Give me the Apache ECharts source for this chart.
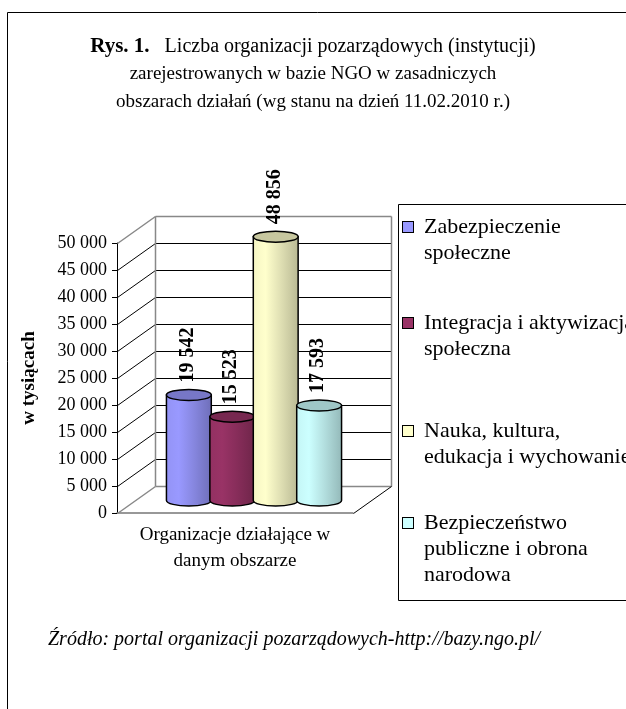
<!DOCTYPE html>
<html>
<head>
<meta charset="utf-8">
<script src="https://cdn.jsdelivr.net/npm/echarts@6/dist/echarts.min.js"></script>
<style>
  html, body { margin: 0; padding: 0; background: #fff; }
  #chart { width: 626px; height: 709px; }
</style>
</head>
<body>
<div id="chart"></div>
<script>
// data
const categories = ['Organizacje działające w\ndanym obszarze'];
const seriesNames = [
  'Zabezpieczenie społeczne',
  'Integracja i aktywizacja społeczna',
  'Nauka, kultura, edukacja i wychowanie',
  'Bezpieczeństwo publiczne i obrona narodowa'
];
const legendLines = [
  ['Zabezpieczenie', 'społeczne'],
  ['Integracja i aktywizacja', 'społeczna'],
  ['Nauka, kultura,', 'edukacja i wychowanie'],
  ['Bezpieczeństwo', 'publiczne i obrona', 'narodowa']
];
const values = [19542, 15523, 48856, 17593];
const yTicks = [0, 5000, 10000, 15000, 20000, 25000, 30000, 35000, 40000, 45000, 50000];
const colors = ['#9999FF', '#993366', '#FFFFCC', '#CCFFFF'];

const FONT = '"Liberation Serif", "Times New Roman", serif';
const DX = 38, DY = -27;      // depth of the 3d box
const BAR_W = 0.19, BAR_STEP = 0.184, RY = 5.5;
const LEGEND_TOPS = [214, 310, 418, 510];

function fmt(v) {
  return String(v).replace(/\B(?=(\d{3})+(?!\d))/g, ' ');
}
function shade(hex, f) {
  const n = parseInt(hex.slice(1), 16);
  const ch = [(n >> 16) & 255, (n >> 8) & 255, n & 255].map((c) => Math.round(Math.min(255, c * f)));
  return 'rgb(' + ch.join(',') + ')';
}
function px(v) {
  return Math.round(v) + 0.5;
}

function renderFrame(params, api) {
  const cs = params.coordSys;
  const x0 = cs.x, x1 = cs.x + cs.width;
  const yb = px(api.coord([0, yTicks[0]])[1]);
  const yt = px(api.coord([0, yTicks[yTicks.length - 1]])[1]);
  const children = [];
  yTicks.forEach((v, i) => {
    const y = px(api.coord([0, v])[1]);
    const edge = i === 0 || i === yTicks.length - 1;
    const style = { stroke: edge ? '#888' : '#000', lineWidth: edge ? 1.5 : 1 };
    children.push({ type: 'line', shape: { x1: px(x0 + DX), y1: y + DY, x2: px(x1 + DX), y2: y + DY }, style });
    children.push({ type: 'line', shape: { x1: px(x0), y1: y, x2: px(x0 + DX), y2: y + DY }, style });
  });
  const gray = { stroke: '#888', lineWidth: 1.5 };
  children.push({ type: 'line', shape: { x1: px(x0 + DX), y1: yt + DY, x2: px(x0 + DX), y2: yb + DY }, style: gray });
  children.push({ type: 'line', shape: { x1: px(x1 + DX), y1: yt + DY, x2: px(x1 + DX), y2: yb + DY }, style: gray });
  children.push({ type: 'line', shape: { x1: px(x1), y1: yb, x2: px(x1 + DX), y2: yb + DY }, style: { stroke: '#000', lineWidth: 1 } });
  return { type: 'group', children };
}

function makeCylinder(idx) {
  return function (params, api) {
    const v = api.value(1);
    const band = api.size([1, 0])[0];
    const base = api.coord([api.value(0), 0]);
    const top = api.coord([api.value(0), v]);
    const w = band * BAR_W;
    const cx = base[0] + (idx - (values.length - 1) / 2) * band * BAR_STEP + DX / 2;
    const l = cx - w / 2, r = cx + w / 2, rx = w / 2;
    const yb = base[1] + DY / 2 + 1, yt = top[1] + DY / 2 + 1;
    const c = colors[idx];
    const body = new echarts.graphic.LinearGradient(0, 0, 1, 0, [
      { offset: 0, color: shade(c, 0.96) },
      { offset: 0.28, color: c },
      { offset: 0.6, color: shade(c, 0.88) },
      { offset: 1, color: shade(c, 0.72) }
    ]);
    return {
      type: 'group',
      children: [
        {
          type: 'path',
          shape: { pathData: `M${l},${yt} L${l},${yb} A${rx},${RY} 0 0 0 ${r},${yb} L${r},${yt} Z` },
          style: { fill: body, stroke: '#000', lineWidth: 1.5 }
        },
        {
          type: 'path',
          shape: { pathData: `M${l},${yt} A${rx},${RY} 0 0 0 ${r},${yt} A${rx},${RY} 0 0 0 ${l},${yt} Z` },
          style: { fill: shade(c, 0.78), stroke: '#000', lineWidth: 1.5 }
        },
        {
          type: 'text',
          x: cx - 1,
          y: yt - RY - 7,
          rotation: Math.PI / 2,
          style: {
            text: fmt(v),
            fontFamily: FONT,
            fontSize: 20,
            fontWeight: 'bold',
            fill: '#000',
            align: 'left',
            verticalAlign: 'middle'
          }
        }
      ]
    };
  };
}

const rich = {
  t: { fontFamily: FONT, fontSize: 22, lineHeight: 26, color: '#000' },
  sp: { width: 21, height: 10 },
  sp0: { width: 11 }
};
colors.forEach((c, i) => {
  rich['s' + i] = { width: 10, height: 10, backgroundColor: c, borderColor: '#000', borderWidth: 1 };
});

const series = seriesNames.map((name, i) => ({
  name,
  type: 'custom',
  renderItem: makeCylinder(i),
  itemStyle: { color: colors[i] },
  data: [[0, values[i]]],
  z: 3
}));
series.push({
  name: 'frame',
  type: 'custom',
  renderItem: renderFrame,
  data: [[0, 0]],
  silent: true,
  z: 1
});

// one legend per entry so the uneven spacing of the original can be kept
const legends = seriesNames.map((name, i) => ({
  orient: 'vertical',
  left: 398,
  top: LEGEND_TOPS[i],
  padding: 0,
  itemWidth: 0,
  itemHeight: 10,
  icon: 'none',
  selectedMode: false,
  data: [name],
  formatter: (n) => {
    const k = seriesNames.indexOf(n);
    return legendLines[k].map((line, j) => (j === 0 ? `{s${k}|}{sp0|}` : '{sp|}') + `{t|${line}}`).join('\n');
  },
  textStyle: { fontFamily: FONT, fontSize: 22, lineHeight: 26, color: '#000', rich }
}));

const chart = echarts.init(document.getElementById('chart'));
chart.setOption({
  animation: false,
  title: [
    {
      left: 'center',
      top: 33,
      padding: 0,
      text: '{b|Rys. 1.}{a|   Liczba organizacji pozarządowych (instytucji)}\n{c|zarejestrowanych w bazie NGO w zasadniczych}\n{c|obszarach działań (wg stanu na dzień 11.02.2010 r.)}',
      textStyle: {
        fontFamily: FONT,
        fontSize: 19,
        fontWeight: 'normal',
        lineHeight: 27.5,
        color: '#000',
        rich: {
          b: { fontFamily: FONT, fontSize: 21, fontWeight: 'bold', color: '#000', lineHeight: 27.5 },
          a: { fontFamily: FONT, fontSize: 20, color: '#000', lineHeight: 27.5 },
          c: { fontFamily: FONT, fontSize: 19, color: '#000', lineHeight: 27.5 }
        }
      }
    },
    {
      left: 48,
      top: 630,
      padding: 0,
      text: 'Źródło: portal organizacji pozarządowych-http://bazy.ngo.pl/',
      textStyle: { fontFamily: FONT, fontSize: 20, fontStyle: 'italic', fontWeight: 'normal', color: '#000' }
    }
  ],
  graphic: [
    {
      type: 'rect',
      shape: { x: 7.5, y: 12.5, width: 800, height: 800 },
      style: { fill: 'none', stroke: '#000', lineWidth: 1 },
      silent: true,
      z: 0
    },
    {
      // legend frame
      type: 'rect',
      shape: { x: 398.5, y: 204.5, width: 300, height: 396 },
      style: { fill: 'none', stroke: '#000', lineWidth: 1 },
      silent: true,
      z: 0
    }
  ],
  legend: legends,
  grid: {
    left: 117,
    top: 243,
    width: 236,
    height: 270,
    outerBoundsMode: 'none'
  },
  xAxis: {
    type: 'category',
    data: categories,
    axisLine: { show: true, lineStyle: { color: '#777', width: 1.5 } },
    axisTick: { show: false },
    axisLabel: { fontFamily: FONT, fontSize: 19, lineHeight: 26, color: '#000', margin: 9 }
  },
  yAxis: {
    type: 'value',
    min: 0,
    max: 50000,
    interval: 5000,
    name: 'w tysiącach',
    nameLocation: 'middle',
    nameRotate: 90,
    nameGap: 78,
    nameTextStyle: { fontFamily: FONT, fontSize: 19, fontWeight: 'bold', color: '#000' },
    axisLine: { show: true, lineStyle: { color: '#000', width: 1 } },
    axisTick: { show: true, length: 5, lineStyle: { color: '#000' } },
    splitLine: { show: false },
    axisLabel: { fontFamily: FONT, fontSize: 18, color: '#000', margin: 10, formatter: fmt }
  },
  series
});
</script>
</body>
</html>
